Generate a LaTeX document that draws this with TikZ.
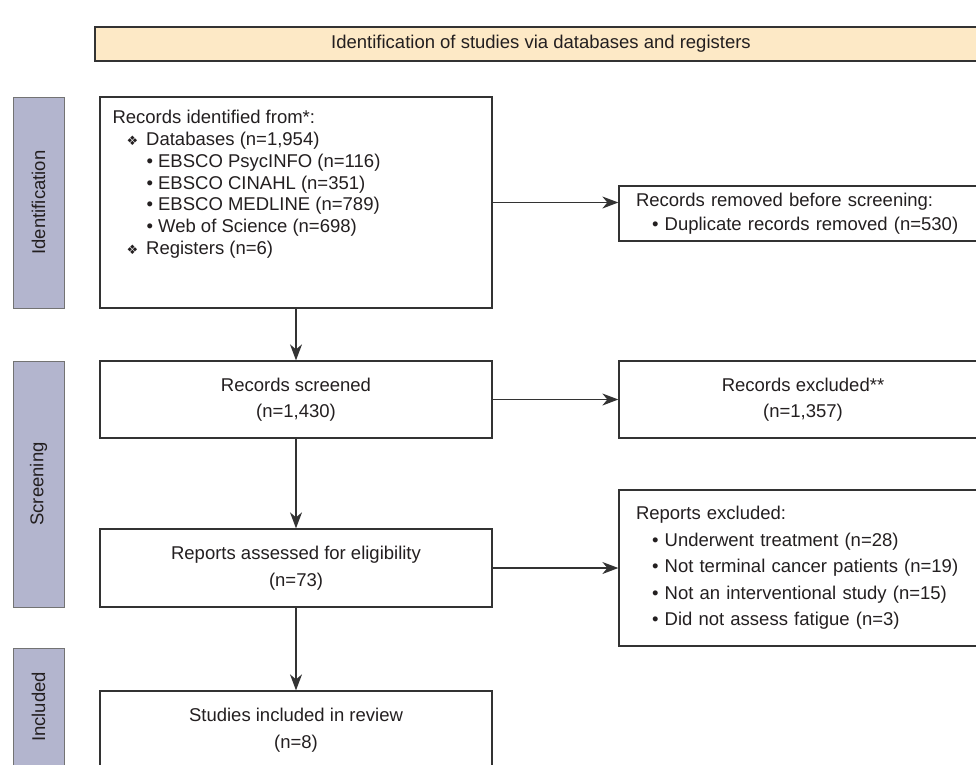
\documentclass[tikz,border=0pt]{standalone}
\usepackage{fontspec}
\setmainfont{Liberation Sans}
\newfontfamily\symfont{DejaVu Sans}
\usetikzlibrary{arrows.meta}
\definecolor{headfill}{HTML}{FDE9C6}
\definecolor{sidefill}{HTML}{B3B5CE}
\definecolor{linegray}{HTML}{333333}
\definecolor{textgray}{HTML}{231F20}
\tikzset{
  box/.style={draw=linegray, line width=1.3pt, fill=white, inner sep=0pt},
  sidebox/.style={draw=black!55, line width=0.9pt, fill=sidefill, rotate=90, inner sep=0pt, minimum height=51pt},
  listbox/.style={box, align=left, inner xsep=17pt, text width=334pt, minimum width=368pt},
  arr/.style={draw=linegray, line width=1.3pt, -{Stealth[length=16pt,width=12pt,inset=5pt]}},
}
\newcommand{\dmd}{{\symfont\fontsize{13}{13}\selectfont ❖}}

\begin{document}
\begin{tikzpicture}[x=1pt, y=-1pt, font=\fontsize{18.5}{26.5}\selectfont, text=textgray]
    \useasboundingbox (0,0) rectangle (976,764);
    \clip (0,0) rectangle (976,764);
    \fill[white] (0,0) rectangle (976,764);
    \node[box, fill=headfill, minimum width=892pt, minimum height=34pt] (head) at (541,44) {Identification of studies via databases and registers};

    \node[sidebox, minimum width=211pt] (sideid) at (38.5,202.5) {Identification};
    \node[sidebox, minimum width=246pt] (sidescr) at (38.5,484) {Screening};
    \node[sidebox, minimum width=118pt] (sideinc) at (38.5,707) {Included};

    \node[box, minimum width=392pt, minimum height=211pt] (ident) at (296,202.5) {};
    \node[anchor=north west, align=left, inner sep=0pt, font=\fontsize{18.5}{21.7}\selectfont] (identtxt) at ([xshift=13pt, yshift=-14pt]ident.north west) {Records identified from*:\\
        \hspace*{14pt}\dmd\hspace*{8pt}Databases (n=1,954)\\
        \hspace*{34pt}• EBSCO PsycINFO (n=116)\\
        \hspace*{34pt}• EBSCO CINAHL (n=351)\\
        \hspace*{34pt}• EBSCO MEDLINE (n=789)\\
        \hspace*{34pt}• Web of Science (n=698)\\
        \hspace*{14pt}\dmd\hspace*{8pt}Registers (n=6)};
    \node[listbox, minimum height=55pt, font=\fontsize{18.5}{24}\selectfont] (removed) at (803,213.5) {Records removed before screening:\\
        \hspace*{16pt}• Duplicate records removed (n=530)};

    \node[box, align=center, minimum width=392pt, minimum height=77pt] (screened) at (296,399.5) {Records screened\\(n=1,430)};
    \node[box, align=center, minimum width=368pt, minimum height=77pt] (excluded) at (803,399.5) {Records excluded**\\(n=1,357)};

    \node[box, align=center, minimum width=392pt, minimum height=78pt] (assessed) at (296,568) {Reports assessed for eligibility\\(n=73)};
    \node[listbox, minimum height=156pt] (repexcl) at (803,568) {Reports excluded:\\
        \hspace*{16pt}• Underwent treatment (n=28)\\
        \hspace*{16pt}• Not terminal cancer patients (n=19)\\
        \hspace*{16pt}• Not an interventional study (n=15)\\
        \hspace*{16pt}• Did not assess fatigue (n=3)};

    \node[box, align=center, minimum width=392pt, minimum height=78pt] (studies) at (296,730) {Studies included in review\\(n=8)};

    \draw[arr] (ident) -- (screened);
    \draw[arr] (ident.east) -- (ident.east -| removed.west);
    \draw[arr] (screened) -- (excluded);
    \draw[arr] (screened) -- (assessed);
    \draw[arr] (assessed) -- (repexcl);
    \draw[arr] (assessed) -- (studies);
\end{tikzpicture}
\end{document}
